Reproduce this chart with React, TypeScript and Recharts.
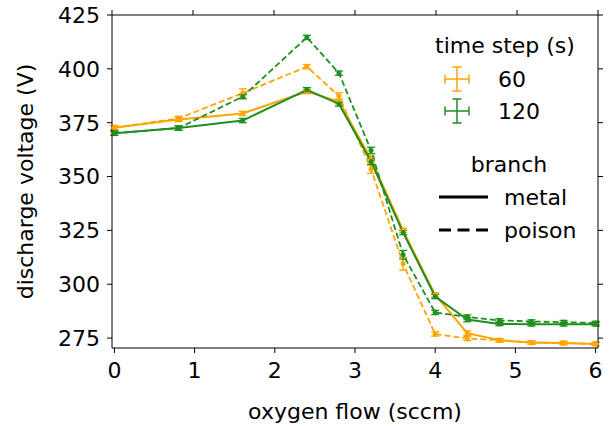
import React from "react";
import { LineChart, Line, XAxis, YAxis, ErrorBar } from "recharts";

const flow = [0, 0.8, 1.6, 2.4, 2.8, 3.2, 3.6, 4.0, 4.4, 4.8, 5.2, 5.6, 6.0];
const v60Metal = [372.7, 376.5, 379.3, 389.5, 384.8, 358.0, 325.0, 295.0, 277.3, 274.0, 272.9, 272.7, 272.3];
const v60Poison = [372.7, 377.0, 388.7, 401.0, 387.4, 353.5, 309.5, 276.9, 274.8, 274.0, 272.9, 272.7, 272.3];
const v120Metal = [370.1, 372.5, 376.0, 390.3, 383.7, 357.0, 324.0, 294.3, 283.6, 281.6, 281.4, 281.4, 281.4];
const v120Poison = [370.1, 372.5, 387.1, 414.6, 398.0, 362.1, 313.7, 286.9, 284.8, 283.2, 282.7, 282.4, 282.0];
const e60Metal = [1, 1, 1, 1, 1, 1.5, 1, 1, 1, 0.8, 0.8, 0.8, 0.8];
const e60Poison = [1, 1, 2, 1, 1.5, 2, 3, 1, 1, 0.8, 0.8, 0.8, 0.8];
const e120Metal = [1, 1, 1, 1, 1, 1.5, 1, 1, 1, 0.8, 0.8, 0.8, 0.8];
const e120Poison = [1, 1, 1, 1, 1, 1.5, 2, 1, 1, 0.8, 0.8, 0.8, 0.8];
const flowErr = [0.03, 0.03, 0.03, 0.03, 0.03, 0.03, 0.03, 0.03, 0.03, 0.03, 0.03, 0.03, 0.03];
const xTicks = [0, 1, 2, 3, 4, 5, 6];
const yTicks = [275, 300, 325, 350, 375, 400, 425];

const ORANGE = "#ffa500";
const GREEN = "#1f8f1f";
const FONT = "DejaVu Sans, sans-serif";

const rows = flow.map((f, i) => ({
  flow: f,
  m60: v60Metal[i],
  p60: v60Poison[i],
  m120: v120Metal[i],
  p120: v120Poison[i],
  em60: e60Metal[i],
  ep60: e60Poison[i],
  em120: e120Metal[i],
  ep120: e120Poison[i],
  ex: flowErr[i],
}));

const series = [
  { key: "m60", err: "em60", color: ORANGE, dash: undefined, w: 2 },
  { key: "p60", err: "ep60", color: ORANGE, dash: "6 3", w: 1.8 },
  { key: "m120", err: "em120", color: GREEN, dash: undefined, w: 2 },
  { key: "p120", err: "ep120", color: GREEN, dash: "6 3", w: 1.8 },
];

const Cross = ({ cx, cy, color }: { cx: number; cy: number; color: string }) => (
  <g stroke={color} strokeWidth={1.5}>
    <line x1={cx - 12} y1={cy} x2={cx + 12} y2={cy} />
    <line x1={cx} y1={cy - 12} x2={cx} y2={cy + 12} />
    <line x1={cx - 12} y1={cy - 4.5} x2={cx - 12} y2={cy + 4.5} />
    <line x1={cx + 12} y1={cy - 4.5} x2={cx + 12} y2={cy + 4.5} />
    <line x1={cx - 4.5} y1={cy - 12} x2={cx + 4.5} y2={cy - 12} />
    <line x1={cx - 4.5} y1={cy + 12} x2={cx + 4.5} y2={cy + 12} />
  </g>
);

const noTick = () => <g />;

export default function App() {
  return (
    <div style={{ position: "absolute", left: 0, top: 0, width: 613, height: 426, background: "#fff" }}>
      <LineChart
        width={613}
        height={426}
        data={rows}
        margin={{ top: 5, right: 5, bottom: 0, left: 0 }}
        style={{ fontFamily: FONT }}
      >
        <XAxis
          xAxisId="b"
          dataKey="flow"
          type="number"
          domain={[0, 6]}
          ticks={xTicks}
          height={78}
          tickSize={5}
          tickMargin={9}
          stroke="#000"
          tick={{ fill: "#000", fontSize: 22, fontFamily: FONT }}
          label={{ value: "oxygen flow (sccm)", position: "insideBottom", offset: 7, fill: "#000", fontSize: 22, fontFamily: FONT }}
        />
        <XAxis
          xAxisId="t"
          orientation="top"
          dataKey="flow"
          type="number"
          domain={[0, 6]}
          ticks={xTicks}
          height={10}
          tickSize={5}
          stroke="#000"
          tick={noTick}
        />
        <YAxis
          yAxisId="l"
          type="number"
          domain={[270.4, 425]}
          ticks={yTicks}
          allowDataOverflow
          width={112}
          tickSize={5}
          tickMargin={7}
          stroke="#000"
          tick={{ fill: "#000", fontSize: 22, fontFamily: FONT }}
          label={{ value: "discharge voltage (V)", angle: -90, position: "insideLeft", offset: 25, fill: "#000", fontSize: 22, fontFamily: FONT, style: { textAnchor: "middle" } }}
        />
        <YAxis
          yAxisId="r"
          orientation="right"
          type="number"
          domain={[270.4, 425]}
          ticks={yTicks}
          allowDataOverflow
          width={10}
          tickSize={5}
          stroke="#000"
          tick={noTick}
        />
        <Line
          xAxisId="t"
          yAxisId="r"
          dataKey="m60"
          stroke="none"
          dot={false}
          activeDot={false}
          isAnimationActive={false}
        />
        {series.map((s) => (
          <Line
            key={s.key}
            xAxisId="b"
            yAxisId="l"
            dataKey={s.key}
            type="linear"
            stroke={s.color}
            strokeWidth={s.w}
            strokeDasharray={s.dash}
            dot={{ r: 2.3, fill: s.color, stroke: s.color, strokeWidth: 0.5, strokeDasharray: "" }}
            activeDot={false}
            isAnimationActive={false}
          >
            <ErrorBar dataKey={s.err} direction="y" width={4} stroke={s.color} strokeWidth={1.3} />
            <ErrorBar dataKey="ex" direction="x" width={4} stroke={s.color} strokeWidth={1.3} />
          </Line>
        ))}
      </LineChart>
      <svg width={613} height={426} style={{ position: "absolute", left: 0, top: 0, pointerEvents: "none" }} fontFamily={FONT}>
        <text x={435} y={53} fontSize={22} fill="#000">time step (s)</text>
        <Cross cx={457} cy={79} color={ORANGE} />
        <text x={498} y={87} fontSize={22} fill="#000">60</text>
        <Cross cx={457} cy={111} color={GREEN} />
        <text x={498} y={119} fontSize={22} fill="#000">120</text>
        <text x={509} y={171.5} fontSize={22} fill="#000" textAnchor="middle">branch</text>
        <line x1={439} y1={197} x2={488} y2={197} stroke="#000" strokeWidth={3} />
        <text x={504} y={205} fontSize={22} fill="#000">metal</text>
        <line x1={439} y1={230} x2={488} y2={230} stroke="#000" strokeWidth={3} strokeDasharray="12 6.5" />
        <text x={504} y={237.5} fontSize={22} fill="#000">poison</text>
      </svg>
    </div>
  );
}
